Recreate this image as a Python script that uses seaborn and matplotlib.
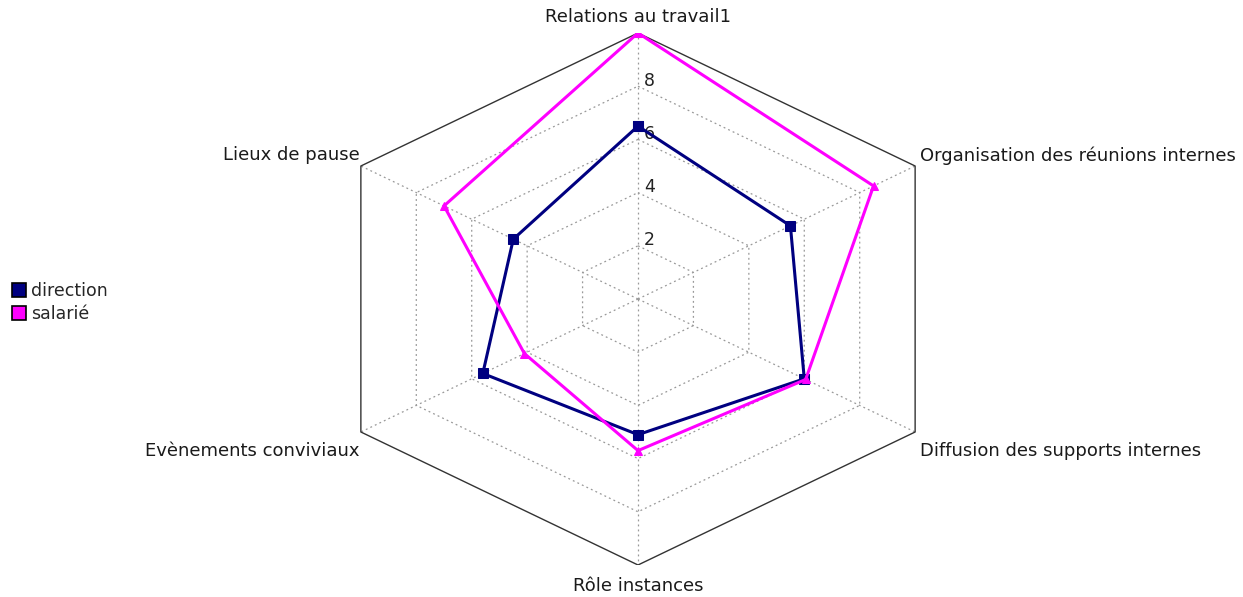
import numpy as np
import pandas as pd
import matplotlib.pyplot as plt
import seaborn as sns
from matplotlib.lines import Line2D

# Data
axes_labels = ['Relations au travail1', 'Organisation des réunions internes',
               'Diffusion des supports internes', 'Rôle instances',
               'Evènements conviviaux', 'Lieux de pause']
direction = [6.5, 5.5, 6.0, 5.1, 5.6, 4.5]
salarie = [10.0, 8.5, 6.05, 5.7, 4.1, 7.0]
ticks = [2, 4, 6, 8]
rmax = 10

sns.set_style('white')
plt.rcParams['font.family'] = ['DejaVu Sans']

n = len(axes_labels)
theta = np.arange(n) * 2 * np.pi / n


def to_xy(vals):
    v = np.append(vals, vals[0])
    t = np.append(theta, theta[0])
    return v * np.sin(t), v * np.cos(t)


fig = plt.figure(figsize=(12.43, 5.97), dpi=100)
ax = fig.add_axes([318 / 1243, 1 - 565 / 597, 640 / 1243, 532 / 597])
ax.set_xlim(-10, 10)
ax.set_ylim(-10, 10)
ax.axis('off')

# grid
for r in ticks:
    gx, gy = to_xy(np.full(n, r))
    ax.plot(gx, gy, color='#999999', lw=0.9, ls=(0, (1.5, 2.5)), zorder=1)
for t in theta:
    ax.plot([0, rmax * np.sin(t)], [0, rmax * np.cos(t)], color='#999999',
            lw=0.9, ls=(0, (1.5, 2.5)), zorder=1)
ox, oy = to_xy(np.full(n, rmax))
ax.plot(ox, oy, color='#333333', lw=1.0, zorder=1)

for r in ticks:
    ax.text(0.18, r + 0.2, str(r), fontsize=12.5, color='#222222',
            ha='left', va='center')

# series
series = [('direction', direction, '#000080', 's', 7),
          ('salarié', salarie, '#ff00ff', '^', 6)]
for name, vals, col, mk, ms in series:
    x, y = to_xy(np.array(vals))
    df = pd.DataFrame({'x': x, 'y': y})
    sns.lineplot(data=df, x='x', y='y', sort=False, estimator=None, color=col,
                 lw=2.2, marker=mk, markersize=ms, markeredgecolor=col,
                 ax=ax, zorder=3)

# axis labels
pos = [(0, 10.25, 'center', 'bottom'),
       (8.8, 5.4, 'left', 'center'),
       (8.8, -5.7, 'left', 'center'),
       (0, -10.45, 'center', 'top'),
       (-8.7, -5.7, 'right', 'center'),
       (-8.7, 5.4, 'right', 'center')]
for lab, (px, py, ha, va) in zip(axes_labels, pos):
    ax.text(px, py, lab, fontsize=13, color='#1a1a1a', ha=ha, va=va)

handles = [Line2D([], [], ls='none', marker='s', markersize=10,
                  markerfacecolor=c, markeredgecolor='black', markeredgewidth=1.2)
           for _, _, c, _, _ in series]
fig.legend(handles, [s[0] for s in series], loc='center left',
           bbox_to_anchor=(-0.004, 0.493), frameon=False, fontsize=12.5,
           handletextpad=0.15, labelspacing=0.3, handlelength=1.0)

fig.savefig('out.png', dpi=100)
